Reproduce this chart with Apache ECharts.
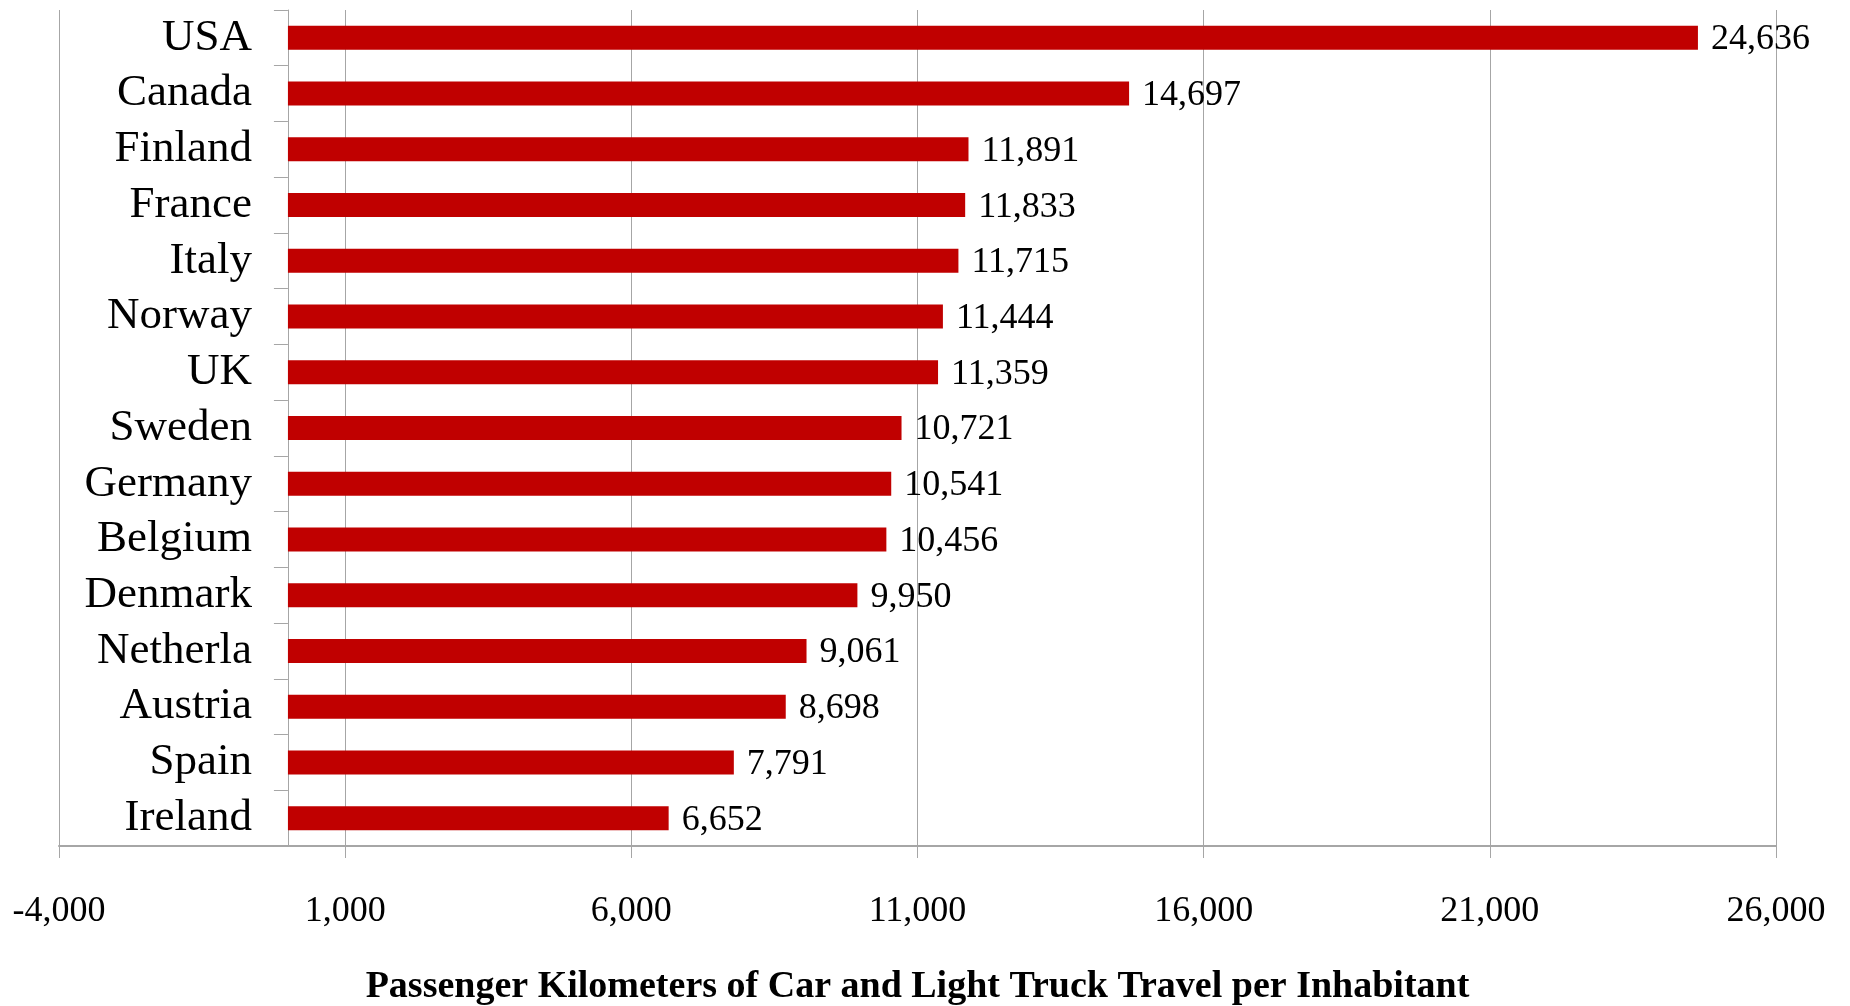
<!DOCTYPE html>
<html>
<head>
<meta charset="utf-8">
<title>Passenger Kilometers of Car and Light Truck Travel per Inhabitant</title>
<script src="https://cdn.jsdelivr.net/npm/echarts@6/dist/echarts.min.js"></script>
<style>
  html, body { margin: 0; padding: 0; background: #ffffff; }
  #chart { width: 1850px; height: 1006px; }
</style>
</head>
<body>
<div id="chart"></div>
<script>
// Countries, top to bottom
const countries = ['USA', 'Canada', 'Finland', 'France', 'Italy', 'Norway', 'UK', 'Sweden',
  'Germany', 'Belgium', 'Denmark', 'Netherla', 'Austria', 'Spain', 'Ireland'];

// Passenger kilometers per inhabitant
const passengerKm = [24636, 14697, 11891, 11833, 11715, 11444, 11359, 10721,
  10541, 10456, 9950, 9061, 8698, 7791, 6652];

// Value axis range and step
const axisMin = -4000;
const axisMax = 26000;
const axisStep = 5000;

const axisTitle = 'Passenger Kilometers of Car and Light Truck Travel per Inhabitant';

const serif = "'Liberation Serif', 'Times New Roman', serif";
const gray = '#a6a6a6';
const fmt = v => Number(v).toLocaleString('en-US');

const W = 1850;
const gridLeft = 59, gridRight = 74;
// the category axis sits where the value axis reaches zero
const plotWidth = W - gridLeft - gridRight;
const zeroShift = (0 - axisMin) / (axisMax - axisMin) * plotWidth;

const chart = echarts.init(document.getElementById('chart'));
chart.setOption({
  backgroundColor: '#ffffff',
  animation: false,
  grid: {
    left: gridLeft, right: gridRight, top: 10, bottom: 160,
    containLabel: false,
    outerBoundsMode: 'none'
  },
  xAxis: {
    type: 'value',
    min: axisMin,
    max: axisMax,
    interval: axisStep,
    position: 'bottom',
    axisLine: { show: true, onZero: false, lineStyle: { color: gray, width: 2 } },
    axisTick: { show: true, length: 12, lineStyle: { color: gray, width: 1 } },
    axisLabel: {
      formatter: fmt,
      fontFamily: serif,
      fontSize: 36,
      color: '#000000',
      margin: 48
    },
    splitLine: { show: true, lineStyle: { color: gray, width: 1 } },
    name: axisTitle,
    nameLocation: 'middle',
    nameGap: 122,
    nameTextStyle: {
      fontFamily: serif,
      fontWeight: 'bold',
      fontSize: 38,
      color: '#000000'
    }
  },
  yAxis: {
    type: 'category',
    data: countries,
    inverse: true,
    offset: -zeroShift,
    axisLine: { show: true, onZero: false, lineStyle: { color: gray, width: 1 } },
    axisTick: { show: true, length: 14, alignWithLabel: false, lineStyle: { color: gray, width: 1 } },
    axisLabel: {
      interval: 0,
      fontFamily: serif,
      fontSize: 45,
      color: '#000000',
      margin: 36
    },
    splitLine: { show: false }
  },
  series: [{
    type: 'bar',
    data: passengerKm,
    barWidth: 24,
    itemStyle: { color: '#c00000' },
    label: {
      show: true,
      position: 'right',
      distance: 13,
      offset: [0, 2],
      formatter: p => fmt(p.value),
      fontFamily: serif,
      fontSize: 36,
      color: '#000000'
    }
  }]
});
</script>
</body>
</html>
